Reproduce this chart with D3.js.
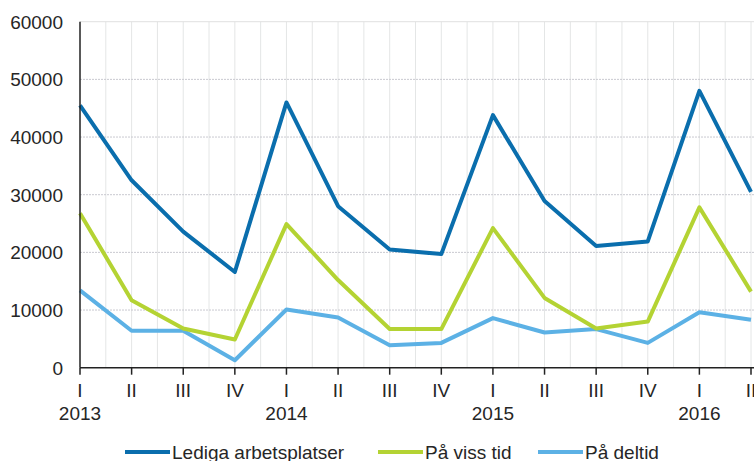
<!DOCTYPE html>
<html>
<head>
<meta charset="utf-8">
<script src="https://cdn.jsdelivr.net/npm/d3@7"></script>
<style>
  body { margin: 0; background: #fff; }
  svg text { font-family: "Liberation Sans", Arial, sans-serif; fill: #262626; }
</style>
</head>
<body>
<div id="chart"></div>
<script>
// quarters and year labels
const quarters = ['I', 'II', 'III', 'IV', 'I', 'II', 'III', 'IV', 'I', 'II', 'III', 'IV', 'I', 'II'];
const years = ['2013', '', '', '', '2014', '', '', '', '2015', '', '', '', '2016', ''];

const lediga = [45500, 32500, 23600, 16600, 46000, 28000, 20500, 19700, 43800, 28900, 21100, 21900, 48000, 30500];
const vissTid = [26800, 11700, 6800, 4900, 24900, 15200, 6700, 6700, 24200, 12100, 6800, 8000, 27800, 13200];
const deltid = [13400, 6400, 6400, 1300, 10100, 8700, 3900, 4300, 8600, 6100, 6700, 4300, 9600, 8300];

const yTicks = [0, 10000, 20000, 30000, 40000, 50000, 60000];

const series = [
    { name: 'Lediga arbetsplatser', values: lediga, color: '#0a6ead' },
    { name: 'På viss tid', values: vissTid, color: '#b4d333' },
    { name: 'På deltid', values: deltid, color: '#5cb1e5' }
];

const width = 754, height = 461;
const plotLeft = 80, plotRight = 751, plotTop = 21.7, plotBottom = 367.7;

const svg = d3.select('#chart')
    .append('svg')
        .attr('width', width)
        .attr('height', height);

const x = d3.scaleLinear()
    .domain([0, quarters.length - 1])
    .range([plotLeft, plotRight]);

const y = d3.scaleLinear()
    .domain([0, 60000])
    .range([plotBottom, plotTop]);

// vertical grid, every half quarter
const half = d3.range(1, (quarters.length - 1) * 2 + 1).map(d => d / 2);
svg.append('g')
    .selectAll('line')
    .data(half)
    .enter()
    .append('line')
        .attr('x1', d => x(d))
        .attr('x2', d => x(d))
        .attr('y1', plotTop)
        .attr('y2', plotBottom)
        .attr('stroke', '#e4e6e6')
        .attr('stroke-width', 1);

// horizontal grid
svg.append('g')
    .selectAll('line')
    .data(yTicks.filter(d => d > 0))
    .enter()
    .append('line')
        .attr('x1', plotLeft)
        .attr('x2', width)
        .attr('y1', d => y(d))
        .attr('y2', d => y(d))
        .attr('stroke', d => d === 60000 ? '#e0e0e0' : '#c9c9d0')
        .attr('stroke-dasharray', d => d === 60000 ? null : '2,1')
        .attr('stroke-width', 1);

// y labels
svg.append('g')
    .selectAll('text')
    .data(yTicks)
    .enter()
    .append('text')
        .attr('x', 63)
        .attr('y', d => y(d))
        .attr('dy', '0.36em')
        .attr('text-anchor', 'end')
        .style('font-size', '19px')
        .text(d => d);

// lines
const line = d3.line()
    .x((d, i) => x(i))
    .y(d => y(d));

svg.append('g')
    .selectAll('path')
    .data(series.slice().reverse())
    .enter()
    .append('path')
        .attr('d', d => line(d.values))
        .attr('fill', 'none')
        .attr('stroke', d => d.color)
        .attr('stroke-width', 4)
        .attr('stroke-linejoin', 'round');

// axes lines
svg.append('line')
    .attr('x1', plotLeft).attr('x2', plotLeft)
    .attr('y1', plotTop).attr('y2', plotBottom)
    .attr('stroke', '#222').attr('stroke-width', 1.5);
svg.append('line')
    .attr('x1', plotLeft).attr('x2', width)
    .attr('y1', plotBottom).attr('y2', plotBottom)
    .attr('stroke', '#222').attr('stroke-width', 1.5);

// x ticks and labels
const xt = svg.append('g')
    .selectAll('g')
    .data(quarters)
    .enter()
    .append('g')
        .attr('transform', (d, i) => `translate(${x(i)},0)`);
xt.append('line')
    .attr('y1', plotBottom).attr('y2', plotBottom + 7)
    .attr('stroke', '#222').attr('stroke-width', 1.5);
xt.append('text')
    .attr('y', 397)
    .attr('text-anchor', 'middle')
    .style('font-size', '19px')
    .text(d => d);
xt.append('text')
    .attr('y', 420)
    .attr('text-anchor', 'middle')
    .style('font-size', '19px')
    .text((d, i) => years[i]);

// legend
const legendX = [125, 378, 538];
const legend = svg.append('g')
    .selectAll('g')
    .data(series)
    .enter()
    .append('g')
        .attr('transform', (d, i) => `translate(${legendX[i]},452)`);
legend.append('line')
    .attr('x1', 0).attr('x2', 45)
    .attr('stroke', d => d.color)
    .attr('stroke-width', 4);
legend.append('text')
    .attr('x', 47)
    .attr('dy', '0.36em')
    .style('font-size', '19px')
    .text(d => d.name);
</script>
</body>
</html>
